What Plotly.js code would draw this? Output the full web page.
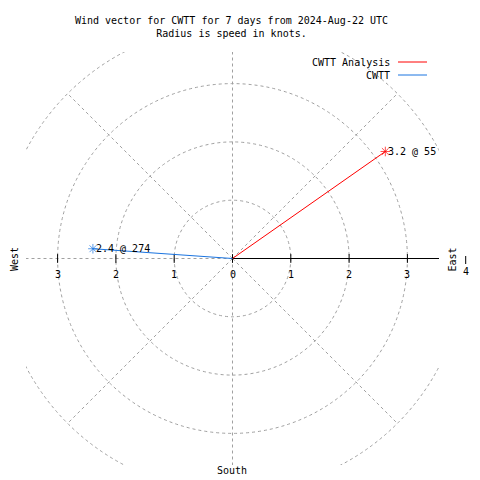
<!DOCTYPE html>
<html>
<head>
<meta charset="utf-8">
<script src="https://cdn.plot.ly/plotly-3.0.1.min.js"></script>
<style>html,body{margin:0;padding:0;background:#fff;}#chart{width:480px;height:480px;}</style>
</head>
<body>
<div id="chart"></div>
<script>
// ---- data ----
const seriesNames = ['CWTT Analysis', 'CWTT'];
const speeds = [3.2, 2.4];          // knots
const directions = [55, 274];       // degrees, clockwise from north
const ringRadii = [1, 2, 3, 4];
const spokeAngles = [0, 45, 90, 135, 180, 225, 270, 315];
const tickVals = [-3, -2, -1, 0, 1, 2, 3];
const tickText = ['3', '2', '1', '0', '1', '2', '3'];
const extraTickVal = 4;
const extraTickText = '4';
const titleLines = ['Wind vector for CWTT for 7 days from 2024-Aug-22 UTC', 'Radius is speed in knots.'];
const directionLabels = ['West', 'East', 'South'];

// ---- style ----
const seriesColors = ['#ff0000', '#1a74e0'];
const FONT = 'DejaVu Sans Mono, Liberation Mono, monospace';
const GRID = '#a0a0a0';
const W = 480, H = 480;
const M = {l: 26, r: 41, t: 52, b: 15};
const PW = W - M.l - M.r, PH = H - M.t - M.b;
const R = 3.542;
const px2x = px => (px - M.l) / PW;
const py2y = py => (H - M.b - py) / PH;
const rad = d => d * Math.PI / 180;

const traces = [];
const annotations = [];
const shapes = [];

// grid rings and spokes
ringRadii.forEach(r => shapes.push({
  type: 'circle', xref: 'x', yref: 'y', x0: -r, y0: -r, x1: r, y1: r,
  line: {color: GRID, width: 1, dash: '3px,3px'}, layer: 'below'
}));
const rMax = ringRadii[ringRadii.length - 1];
spokeAngles.forEach(a => shapes.push({
  type: 'line', xref: 'x', yref: 'y', x0: 0, y0: 0,
  x1: rMax * Math.sin(rad(a)), y1: rMax * Math.cos(rad(a)),
  line: {color: GRID, width: 1, dash: '3px,3px'}, layer: 'below'
}));
// solid east axis line
shapes.push({type: 'line', xref: 'x', yref: 'y', x0: 0, y0: 0, x1: rMax, y1: 0,
  line: {color: '#000', width: 1}, layer: 'below'});
// tick marks and labels
const tickHalf = 0.075;
tickVals.forEach((v, i) => {
  shapes.push({type: 'line', xref: 'x', yref: 'y', x0: v, x1: v, y0: -tickHalf, y1: tickHalf,
    line: {color: '#000', width: 1}, layer: 'below'});
  annotations.push({xref: 'x', yref: 'y', x: v, y: 0, yshift: -16, text: tickText[i],
    showarrow: false, xanchor: 'center', yanchor: 'middle', font: {family: FONT, size: 10, color: '#000'}});
});
// tick at 4 lies outside the plot frame
const x4 = (extraTickVal + R) / (2 * R);
shapes.push({type: 'line', xref: 'paper', yref: 'paper', x0: x4, x1: x4, y0: py2y(256), y1: py2y(264),
  line: {color: '#000', width: 1}});
annotations.push({xref: 'paper', yref: 'paper', x: x4, y: py2y(271.5), text: extraTickText,
  showarrow: false, xanchor: 'center', yanchor: 'middle', font: {family: FONT, size: 10, color: '#000'}});

// compass labels
annotations.push({xref: 'paper', yref: 'paper', x: px2x(14), y: py2y(259), text: directionLabels[0], textangle: -90,
  showarrow: false, xanchor: 'center', yanchor: 'middle', font: {family: FONT, size: 10, color: '#000'}});
annotations.push({xref: 'paper', yref: 'paper', x: px2x(452), y: py2y(259.5), text: directionLabels[1], textangle: -90,
  showarrow: false, xanchor: 'center', yanchor: 'middle', font: {family: FONT, size: 10, color: '#000'}});
annotations.push({xref: 'paper', yref: 'paper', x: px2x(232), y: py2y(471), text: directionLabels[2],
  showarrow: false, xanchor: 'center', yanchor: 'middle', font: {family: FONT, size: 10, color: '#000'}});

// vectors
seriesNames.forEach((name, i) => {
  const ex = speeds[i] * Math.sin(rad(directions[i]));
  const ey = speeds[i] * Math.cos(rad(directions[i]));
  traces.push({
    type: 'scatter', mode: 'lines+markers', name: name,
    x: [0, ex], y: [0, ey],
    line: {color: seriesColors[i], width: 1},
    marker: {symbol: 'asterisk-open', size: [0, 8], color: seriesColors[i], line: {color: seriesColors[i], width: 1}},
    cliponaxis: false, hoverinfo: 'skip'
  });
  annotations.push({xref: 'x', yref: 'y', x: ex, y: ey, xshift: 1, text: speeds[i] + ' @ ' + directions[i],
    showarrow: false, xanchor: 'left', yanchor: 'middle', font: {family: FONT, size: 10, color: '#000'}});
  // legend (text on left, line on right)
  const ly = 62 + 13 * i;
  annotations.push({xref: 'paper', yref: 'paper', x: px2x(392), y: py2y(ly), text: name,
    showarrow: false, xanchor: 'right', yanchor: 'middle', font: {family: FONT, size: 10, color: '#000'}});
  shapes.push({type: 'line', xref: 'paper', yref: 'paper', x0: px2x(398), x1: px2x(427), y0: py2y(ly), y1: py2y(ly),
    line: {color: seriesColors[i], width: 1}});
});

const layout = {
  width: W, height: H,
  margin: {l: M.l, r: M.r, t: M.t, b: M.b, autoexpand: false},
  paper_bgcolor: '#fff', plot_bgcolor: '#fff',
  showlegend: false,
  title: {text: titleLines.join('<br>'), x: 231.5 / W, xanchor: 'center', y: 1 - 24 / H, yanchor: 'top',
    font: {family: FONT, size: 10, color: '#000'}},
  xaxis: {range: [-R, R], visible: false, fixedrange: true},
  yaxis: {range: [-R, R], visible: false, fixedrange: true},
  shapes: shapes,
  annotations: annotations
};

Plotly.newPlot('chart', traces, layout, {staticPlot: true, displayModeBar: false});
</script>
</body>
</html>
